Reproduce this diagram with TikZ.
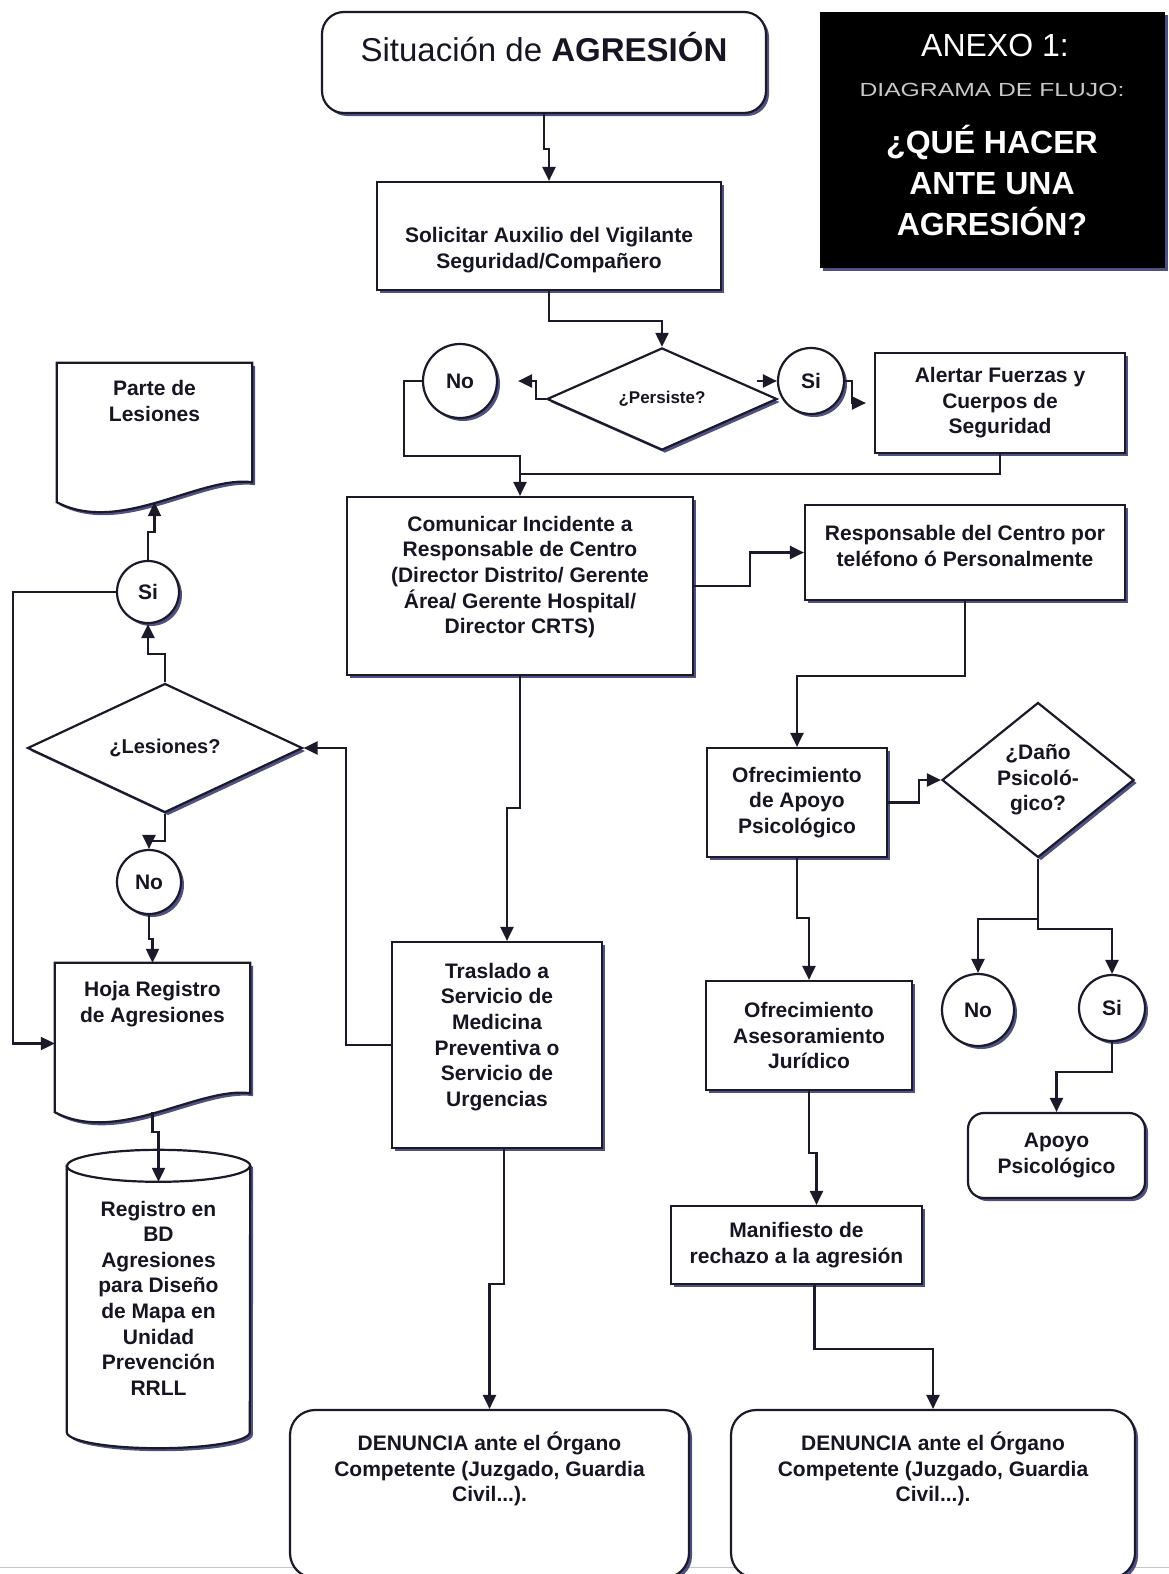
\documentclass[tikz,border=0pt]{standalone}
\usepackage{fontspec}
\setmainfont{Liberation Sans}
\newfontfamily\widefont{Liberation Sans}[FakeStretch=1.3]
\usepackage{tikz}
\usetikzlibrary{calc,arrows.meta,positioning,shapes.geometric,shadows}
\definecolor{linec}{RGB}{26,26,40}
\definecolor{textc}{RGB}{22,22,34}
\definecolor{shadowc}{RGB}{50,50,110}
\definecolor{flujogray}{RGB}{200,200,200}

\begin{document}
\begin{tikzpicture}[x=1pt, y=-1pt,
  boxshadow/.style={drop shadow={shadow xshift=3pt, shadow yshift=-3pt, fill=shadowc, opacity=0.85}},
  flowbase/.style={draw=linec, line width=2.2pt, fill=white, text=textc, align=center, inner sep=0pt, font=\bfseries\fontsize{21}{25.6}\selectfont},
  proc/.style={flowbase, rectangle, boxshadow},
  term/.style={proc, rounded corners=20pt},
  choice/.style={flowbase, diamond, boxshadow},
  answer/.style={flowbase, circle, boxshadow},
  shapeonly/.style={rectangle, inner sep=0pt, draw=none},
  txt/.style={text=textc, align=center, inner sep=0pt, font=\bfseries\fontsize{21}{25.6}\selectfont},
  docline/.style={draw=linec, line width=2.2pt, fill=white, boxshadow},
  link/.style={draw=linec, line width=2.2pt},
  arr/.style={link, -{Triangle[length=14pt, width=13pt]}}]
\useasboundingbox[fill=white] (0,0) rectangle (1169,1574);
\draw[gray!45, line width=1pt] (0,1567) -- (1169,1567);

\node[term, minimum width=444, minimum height=101, rounded corners=22pt] (start) at (544,62.5) {};
\node[txt, font=\fontsize{33}{38}\selectfont] (startT) at (544,47) {Situación de \textbf{AGRESIÓN}};
\node[rectangle, fill=black, minimum width=345, minimum height=256, boxshadow] (anexo) at (992,140) {};
\node[text=white, font=\fontsize{32}{38}\selectfont] (anexoA) at (995,45) {ANEXO 1:};
\node[text=flujogray, font=\widefont\fontsize{19}{22}\selectfont] (anexoB) at (992,90) {DIAGRAMA DE FLUJO:};
\node[text=white, align=center, font=\bfseries\fontsize{32}{41}\selectfont] (anexoC) at (992,180) {¿QUÉ HACER\\ANTE UNA\\AGRESIÓN?};

\node[proc, minimum width=344, minimum height=108] (solicitar) at (549,236) {};
\node[txt] (solicitarT) at (549,250) {Solicitar Auxilio del Vigilante\\Seguridad/Compañero};
\node[choice, minimum width=230, minimum height=98, font=\bfseries\fontsize{17}{20}\selectfont] (persiste) at (662,399) {¿Persiste?};
\node[answer, minimum size=74] (noA) at (460,381) {No};
\node[answer, minimum size=66] (siA) at (811,381) {Si};
\node[proc, minimum width=250, minimum height=100] (alertar) at (1000,403) {Alertar Fuerzas y\\Cuerpos de\\Seguridad};
\node[proc, minimum width=346, minimum height=178] (comunicar) at (520,586) {};
\node[txt] (comunicarT) at (520,577) {Comunicar Incidente a\\Responsable de Centro\\(Director Distrito/ Gerente\\Área/ Gerente Hospital/\\Director CRTS)};
\node[proc, minimum width=320, minimum height=95] (responsable) at (965,552.5) {};
\node[txt] (responsableT) at (965,546) {Responsable del Centro por\\teléfono ó Personalmente};
\node[proc, minimum width=210, minimum height=206] (traslado) at (497,1045) {};
\node[txt] (trasladoT) at (497,1037) {Traslado a\\Servicio de\\Medicina\\Preventiva o\\Servicio de\\Urgencias};

\node[shapeonly, minimum width=195, minimum height=139] (parte) at (154.5,432.5) {};
\draw[docline] (parte.south west) -- (parte.north west) -- (parte.north east) -- ([yshift=20pt]parte.south east)
  .. controls +(-52,-7) and +(63,33) .. (parte.south west) -- cycle;
\node[txt] (parteT) at (154.5,401) {Parte de\\Lesiones};
\node[answer, minimum size=62] (siL) at (148,592) {Si};
\node[choice, minimum width=275, minimum height=113, font=\bfseries\fontsize{20}{24}\selectfont] (lesiones) at (165,748) {¿Lesiones?};
\node[answer, minimum size=64] (noL) at (149,882) {No};
\node[shapeonly, minimum width=195, minimum height=149] (hoja) at (152.5,1037.5) {};
\draw[docline] (hoja.south west) -- (hoja.north west) -- (hoja.north east) -- ([yshift=19pt]hoja.south east)
  .. controls +(-52,-7) and +(63,33) .. (hoja.south west) -- cycle;
\node[txt] (hojaT) at (152.5,1004) {Hoja Registro\\de Agresiones};
\node[shapeonly, minimum width=183, minimum height=266] (bd) at (158.5,1299) {};
\draw[docline] (bd.north west) -- (bd.south west) arc[start angle=180, end angle=360, x radius=91.5pt, y radius=16pt]
  -- (bd.north east) arc[start angle=0, end angle=180, x radius=91.5pt, y radius=16pt] -- cycle;
\draw[link] (bd.north west) arc[start angle=180, end angle=360, x radius=91.5pt, y radius=16pt];
\node[txt] (bdT) at (158.5,1298) {Registro en\\BD\\Agresiones\\para Diseño\\de Mapa en\\Unidad\\Prevención\\RRLL};

\node[proc, minimum width=180, minimum height=109] (apoyo) at (797,802.5) {Ofrecimiento\\de Apoyo\\Psicológico};
\node[choice, minimum width=192, minimum height=155] (dano) at (1038,780) {¿Daño\\Psicoló-\\gico?};
\node[proc, minimum width=206, minimum height=109] (asesor) at (809,1035.5) {Ofrecimiento\\Asesoramiento\\Jurídico};
\node[answer, minimum size=72] (noR) at (978,1010) {No};
\node[answer, minimum size=66] (siR) at (1112,1008) {Si};
\node[term, minimum width=177, minimum height=85, rounded corners=16pt] (apoyoR) at (1056.5,1155.5) {Apoyo\\Psicológico};
\node[proc, minimum width=251, minimum height=78] (manifiesto) at (796.5,1245) {Manifiesto de\\rechazo a la agresión};

\node[term, minimum width=399, minimum height=168, rounded corners=25pt] (denA) at (489.5,1494) {};
\node[txt] (denAT) at (489.5,1469) {DENUNCIA ante el Órgano\\Competente (Juzgado, Guardia\\Civil...).};
\node[term, minimum width=404, minimum height=168, rounded corners=25pt] (denB) at (933,1494) {};
\node[txt] (denBT) at (933,1469) {DENUNCIA ante el Órgano\\Competente (Juzgado, Guardia\\Civil...).};

\draw[arr] (start.south) -- ++(0,35) -| (solicitar.north);
\draw[arr] (solicitar.south) -- ++(0,30) -| (persiste.north);
\draw[arr] (persiste.west) -- ++(-10,0) |- ([xshift=20pt]noA.east);
\draw[arr] ([xshift=-20pt]siA.west) -- (siA.west);
\draw[arr, shorten >=8pt] (siA.east) -- ++(7,0) |- (alertar.west);
\draw[arr] (noA.west) -- ++(-18,0) |- ($(comunicar.north)+(0,-40)$) -- (comunicar.north);
\draw[link] (alertar.south) |- ($(comunicar.north)+(0,-22)$);
\draw[arr] (comunicar.east) -- ++(56,0) |- (responsable.west);
\draw[arr] (responsable.south) -- ++(0,75) -| (apoyo.north);
\draw[arr] (comunicar.south) -- ++(0,132) -| ([xshift=10pt]traslado.north);
\draw[arr] (traslado.west) -- ++(-45,0) |- (lesiones.east);
\draw[arr] (lesiones.north) -- ++(0,-28) -| (siL.south);
\draw[arr] (siL.north) -- ++(0,-28) -| (parte.south);
\draw[arr] (siL.west) -- ++(-103,0) |- ([yshift=-6pt]hoja.west);
\draw[arr] (lesiones.south) -- ++(0,27) -| (noL.north);
\draw[arr] (noL.south) -- ++(0,24) -| (hoja.north);
\draw[arr] (hoja.south) -- ++(0,20) -| ([yshift=-16pt]bd.north);
\draw[arr] ([xshift=7pt]traslado.south) -- ++(0,135) -| (denA.north);
\draw[arr] (apoyo.south) -- ++(0,60) -| (asesor.north);
\draw[arr] (apoyo.east) -- ++(31,0) |- (dano.west);
\draw[arr] (dano.south) -- ++(0,60) -| (noR.north);
\draw[arr] (dano.south) -- ++(0,70) -| (siR.north);
\draw[arr] (siR.south) -- ++(0,30) -| (apoyoR.north);
\draw[arr] (asesor.south) -- ++(0,62) -| ([xshift=20pt]manifiesto.north);
\draw[arr] ([xshift=18pt]manifiesto.south) -- ++(0,64) -| (denB.north);
\end{tikzpicture}
\end{document}
